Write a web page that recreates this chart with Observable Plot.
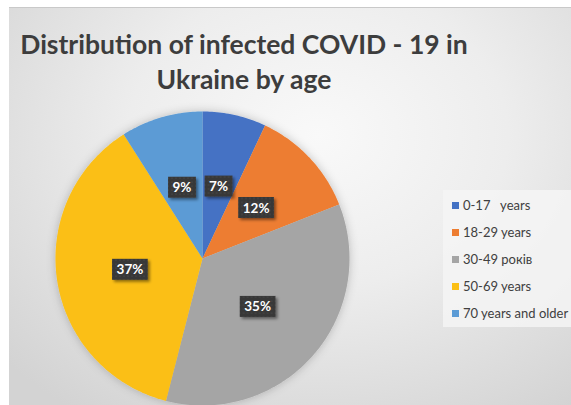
<!DOCTYPE html>
<html><head><meta charset="utf-8">
<script src="https://cdn.jsdelivr.net/npm/d3@7"></script>
<script src="https://cdn.jsdelivr.net/npm/@observablehq/plot@0.6"></script>
<style>
body{margin:0;background:#fff;}
#wrap{position:relative;width:571px;height:405px;overflow:hidden;background:#fff;}
#bg{position:absolute;left:9px;top:7px;right:0;bottom:0;border-top:1px solid #c9c9c9;
 background:radial-gradient(ellipse 75% 85% at 55% 32%, #f9f9f9 0%, #ededed 45%, #d3d3d3 100%);}
#chart{position:absolute;left:0;top:0;}
#title{position:absolute;left:0;top:27px;width:488px;text-align:center;font-family:Lato,sans-serif;font-weight:bold;font-size:26.5px;color:#3d3d3d;line-height:35px;}
#legend{position:absolute;left:443px;top:190px;width:150px;height:137px;background:rgba(245,245,245,0.85);font-family:Lato,sans-serif;font-size:13px;color:#404040;}
.item{position:absolute;left:9px;height:14px;line-height:14px;white-space:pre;}
.sw{display:inline-block;width:7px;height:7px;margin-right:4px;vertical-align:1px;}
</style></head>
<body>
<div id="wrap"><div id="bg"></div><div id="chart"></div>
<div id="title">Distribution of infected COVID - 19 in<br>Ukraine by age</div>
<div id="legend"></div></div>
<script>
const ages = ["0-17   years","18-29 years","30-49 років","50-69 years","70 years and older"];
const shares = [7,12,35,37,9];
const pctLabels = ["7%","12%","35%","37%","9%"];
const colors = ["#4472C4","#ED7D31","#A5A5A5","#FBBF14","#5B9BD5"];

const W=571,H=405,cx=202,cy=258,R=147;
const arcs = d3.pie().sort(null).value(d=>d)(shares);
const slicePts = arcs.flatMap((a,i)=>{
  const n = Math.max(2, Math.ceil((a.endAngle-a.startAngle)*60));
  const pts=[{age:ages[i],x:0,y:0}];
  for(let k=0;k<=n;k++){const t=a.startAngle+(a.endAngle-a.startAngle)*k/n; pts.push({age:ages[i],x:Math.sin(t),y:Math.cos(t)});}
  pts.push({age:ages[i],x:0,y:0});
  return pts;
});
const labels = arcs.map((a,i)=>{const m=(a.startAngle+a.endAngle)/2; return {label:pctLabels[i], x:0.5*Math.sin(m), y:0.5*Math.cos(m)};});

const chart = Plot.plot({
  width:W,height:H,margin:0,
  x:{domain:[-cx/R,(W-cx)/R],axis:null},
  y:{domain:[-(H-cy)/R,cy/R],axis:null},
  color:{domain:ages,range:colors},
  style:{background:"transparent",overflow:"visible"},
  marks:[
    Plot.line(slicePts,{x:"x",y:"y",z:"age",fill:"age",stroke:"none"}),
    Plot.text(labels,{x:"x",y:"y",text:"label",fill:"white",fontWeight:"bold",fontSize:13.5,fontFamily:"Lato, sans-serif"})
  ]
});
document.getElementById("chart").appendChild(chart);

const svg = d3.select(chart);
const defs = svg.insert("defs",":first-child");
const pat = defs.append("pattern").attr("id","dots").attr("width",4).attr("height",4).attr("patternUnits","userSpaceOnUse");
pat.append("rect").attr("width",4).attr("height",4).attr("fill","#383838");
pat.append("circle").attr("cx",2).attr("cy",2).attr("r",0.6).attr("fill","#585858");
const f = defs.append("filter").attr("id","sh").attr("x","-30%").attr("y","-30%").attr("width","170%").attr("height","170%");
f.append("feDropShadow").attr("dx",2).attr("dy",2).attr("stdDeviation",1.6).attr("flood-color","#000").attr("flood-opacity",0.45);
const pf = defs.append("filter").attr("id","pieSh").attr("x","-20%").attr("y","-20%").attr("width","140%").attr("height","140%");
pf.append("feDropShadow").attr("dx",0).attr("dy",0).attr("stdDeviation",5).attr("flood-color","#000").attr("flood-opacity",0.22);

svg.selectAll('g[aria-label="line"]').attr("filter","url(#pieSh)");
svg.selectAll('g[aria-label="text"] text').each(function(){
  const b = this.getBBox();
  d3.select(this.parentNode).insert("rect",()=>this)
    .attr("transform", this.getAttribute("transform"))
    .attr("x",b.x-4.5).attr("y",b.y-2.5).attr("width",b.width+9).attr("height",b.height+5)
    .attr("fill","url(#dots)").attr("filter","url(#sh)");
});

const leg = d3.select("#legend");
ages.forEach((a,i)=>{
  const it = leg.append("div").attr("class","item").style("top",(8+i*27)+"px");
  it.append("span").attr("class","sw").style("background",colors[i]);
  it.append("span").text(a);
});
</script>
</body></html>
